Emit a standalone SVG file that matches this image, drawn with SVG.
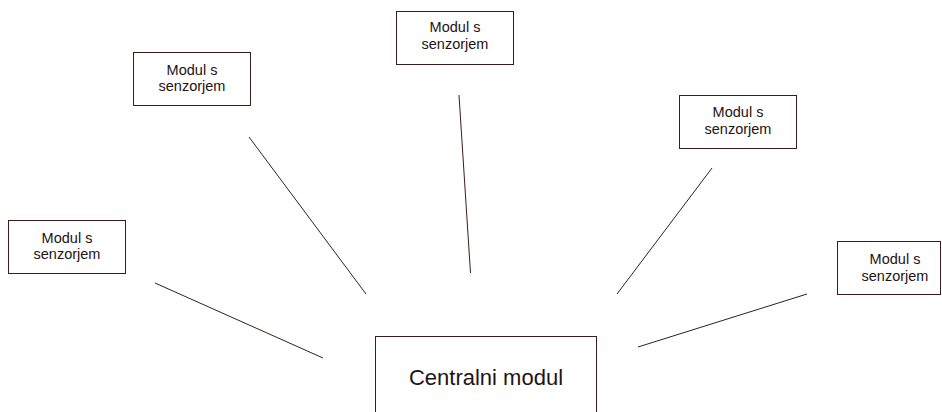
<svg xmlns="http://www.w3.org/2000/svg" width="942" height="412" viewBox="0 0 942 412">
  <style>
    .box { fill: #ffffff; stroke: #3a1c1c; stroke-width: 1; }
    .lbl { font-family: "Liberation Sans", Arial, sans-serif; font-size: 14.5px; fill: #221414; text-anchor: middle; }
    .big { font-family: "Liberation Sans", Arial, sans-serif; font-size: 22px; fill: #221414; text-anchor: middle; }
    .wire { stroke: #3a1c1c; stroke-width: 1; fill: none; }
  </style>
  <rect width="942" height="412" fill="#ffffff"/>

  <!-- links from each sensor module towards the central module -->
  <g id="connectors">
    <line class="wire" x1="155" y1="283" x2="323" y2="358"/>
    <line class="wire" x1="249" y1="137" x2="366" y2="294"/>
    <line class="wire" x1="459" y1="95" x2="470.5" y2="273"/>
    <line class="wire" x1="712" y1="168" x2="617" y2="294"/>
    <line class="wire" x1="807" y1="294" x2="638" y2="347"/>
  </g>

  <g id="sensor-left">
    <rect class="box" x="8.5" y="220.5" width="117" height="53"/>
    <text class="lbl" x="67" y="243">Modul s</text>
    <text class="lbl" x="67" y="259">senzorjem</text>
  </g>

  <g id="sensor-upper-left">
    <rect class="box" x="133.5" y="52.5" width="117" height="53"/>
    <text class="lbl" x="192" y="75">Modul s</text>
    <text class="lbl" x="192" y="91">senzorjem</text>
  </g>

  <g id="sensor-top">
    <rect class="box" x="396.5" y="11.5" width="117" height="53"/>
    <text class="lbl" x="455" y="32">Modul s</text>
    <text class="lbl" x="455" y="49">senzorjem</text>
  </g>

  <g id="sensor-upper-right">
    <rect class="box" x="679.5" y="95.5" width="117" height="53"/>
    <text class="lbl" x="738" y="117">Modul s</text>
    <text class="lbl" x="738" y="134">senzorjem</text>
  </g>

  <g id="sensor-right">
    <rect class="box" x="837.5" y="241.5" width="103" height="53"/>
    <text class="lbl" x="895" y="264">Modul s</text>
    <text class="lbl" x="895" y="281">senzorjem</text>
  </g>

  <g id="central-module">
    <rect class="box" x="375.5" y="336.5" width="221" height="90"/>
    <text class="big" x="486" y="385">Centralni modul</text>
  </g>
</svg>
